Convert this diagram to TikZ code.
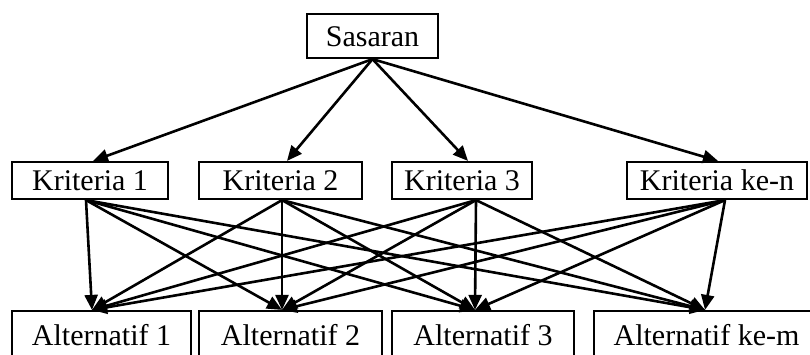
\documentclass[tikz,border=0pt]{standalone}
\usepackage{fontspec}
\setmainfont{Liberation Serif}
\usetikzlibrary{arrows.meta,calc}
\begin{document}
\begin{tikzpicture}[x=1pt,y=-1pt,
  box/.style={draw, line width=2.2pt, inner sep=0pt, text height=20pt, text depth=0pt, font=\fontsize{30}{32}\selectfont},
  arr/.style={line width=2.6pt, -{Triangle[length=15pt,width=13pt]}}]
\useasboundingbox (0,0) rectangle (810,354);
\clip (0,0) rectangle (810,354);
\fill[white] (0,0) rectangle (810,354);
% top
\node[box, minimum width=131pt, minimum height=44pt] (S) at (372.5,36) {Sasaran};
% criteria
\node[box, minimum width=156pt, minimum height=37pt] (K1) at (90,180.5) {Kriteria 1};
\node[box, minimum width=163pt, minimum height=37pt] (K2) at (280.5,180.5) {Kriteria 2};
\node[box, minimum width=140pt, minimum height=37pt] (K3) at (462,180.5) {Kriteria 3};
\node[box, minimum width=180pt, minimum height=37pt] (Kn) at (717,180.5) {Kriteria ke-n};
% alternatives
\node[box, minimum width=179pt, minimum height=48pt] (A1) at (101.5,335) {Alternatif 1};
\node[box, minimum width=183pt, minimum height=48pt] (A2) at (290.5,335) {Alternatif 2};
\node[box, minimum width=182pt, minimum height=48pt] (A3) at (483,335) {Alternatif 3};
\node[box, minimum width=225pt, minimum height=48pt] (Am) at (706.5,335) {Alternatif ke-m};
% anchor points
\coordinate (k1t) at ($(K1.north)+(3,0)$);
\coordinate (k2t) at ($(K2.north)+(6.5,0)$);
\coordinate (k3t) at ($(K3.north)+(6,0)$);
\coordinate (knt) at ($(Kn.north)+(1,0)$);
\coordinate (k1b) at ($(K1.south)+(-4,0)$);
\coordinate (k2b) at ($(K2.south)+(1.5,0)$);
\coordinate (k3b) at ($(K3.south)+(14,0)$);
\coordinate (knb) at ($(Kn.south)+(8,0)$);
\coordinate (a1t) at ($(A1.north)+(-9.5,0)$);
\coordinate (a2t) at ($(A2.north)+(-8.5,0)$);
\coordinate (a3t) at ($(A3.north)+(-8,0)$);
\coordinate (amt) at ($(Am.north)+(-1.5,0)$);
% connectors
\foreach \k in {k1t,k2t,k3t,knt} \draw[arr] (S.south) -- (\k);
\foreach \k in {k1b,k2b,k3b,knb}
  \foreach \a in {a1t,a2t,a3t,amt}
    \draw[arr] (\k) -- (\a);
\end{tikzpicture}
\end{document}
